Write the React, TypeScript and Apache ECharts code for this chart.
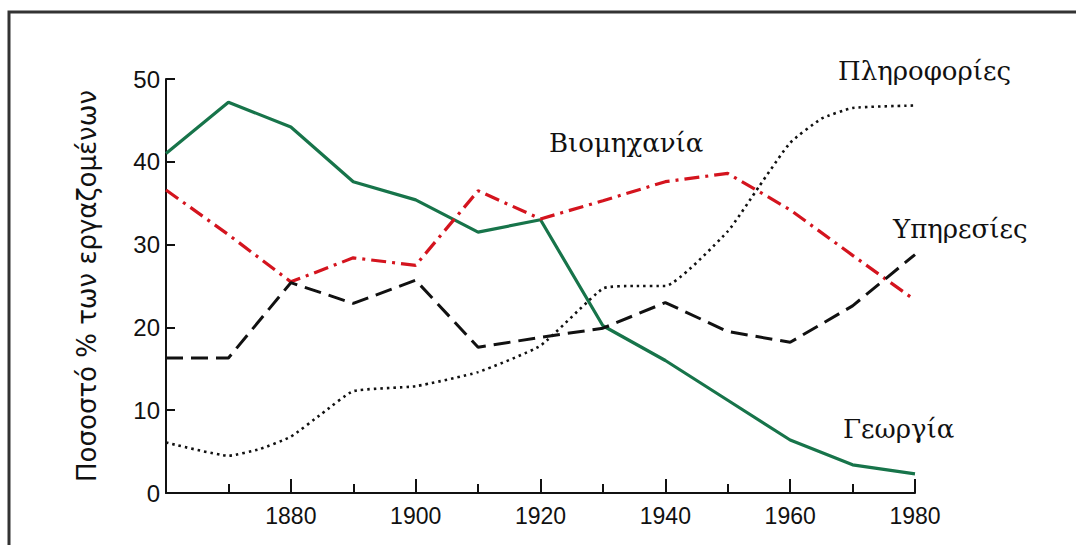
import React, { useEffect, useRef } from "react";
import * as echarts from "echarts";

const years = [1860, 1870, 1880, 1890, 1900, 1910, 1920, 1930, 1940, 1950, 1960, 1970, 1980];
const georgia = [41, 47.2, 44.2, 37.6, 35.4, 31.5, 33, 20.2, 16, 11.2, 6.4, 3.4, 2.3];
const viomichania = [36.6, 31.2, 25.5, 28.4, 27.5, 36.5, 33.1, 35.3, 37.6, 38.6, 34.2, 28.7, 23.3];
const ypiresies = [16.3, 16.3, 25.4, 22.9, 25.7, 17.6, 18.8, 19.9, 23.0, 19.5, 18.2, 22.6, 28.8];
const pliroforiesYears = [1860, 1870, 1875, 1880, 1885, 1890, 1900, 1910, 1920, 1930, 1935, 1940, 1950, 1955, 1960, 1965, 1970, 1980];
const plirofories = [6.1, 4.5, 5.3, 6.8, 9.6, 12.3, 12.9, 14.6, 17.8, 24.7, 25, 25, 31.6, 37, 42.3, 45.2, 46.5, 46.8];

const seriesNames = ["Γεωργία", "Βιομηχανία", "Υπηρεσίες", "Πληροφορίες"];
const yTitle = "Ποσοστό % των εργαζομένων";

export default function App() {
  const ref = useRef<HTMLDivElement>(null);
  useEffect(() => {
    const chart = echarts.init(ref.current!, null, { renderer: "svg" });
    const zip = (xs: number[], ys: number[]) => xs.map((x, i) => [x, ys[i]]);
    const lbl = (text: string) => ({ text, font: "26px 'DejaVu Serif'", fill: "#111" });
    chart.setOption({
      animation: false,
      backgroundColor: "#fff",
      grid: { left: 166, right: 161, top: 79, bottom: 52 },
      xAxis: {
        type: "value",
        min: 1860,
        max: 1980,
        interval: 20,
        axisLine: { show: true, lineStyle: { color: "#111", width: 2 } },
        axisTick: { show: true, inside: true, length: 14, lineStyle: { color: "#111", width: 2 } },
        minorTick: { show: true, splitNumber: 2, length: 9, lineStyle: { color: "#111", width: 2 } },
        splitLine: { show: false },
        axisLabel: {
          fontFamily: "Liberation Sans",
          fontSize: 23,
          color: "#111",
          margin: 11,
          formatter: (v: number) => (v === 1860 ? "" : String(v)),
        },
      },
      yAxis: {
        type: "value",
        min: 0,
        max: 50,
        interval: 10,
        name: yTitle,
        nameLocation: "middle",
        nameGap: 66,
        nameTextStyle: { fontFamily: "DejaVu Sans", fontSize: 26, color: "#111" },
        axisLine: { show: true, lineStyle: { color: "#111", width: 2 } },
        axisTick: { show: true, inside: true, length: 9, lineStyle: { color: "#111", width: 2 } },
        splitLine: { show: false },
        axisLabel: { fontFamily: "Liberation Sans", fontSize: 24, color: "#111", margin: 6 },
      },
      series: [
        {
          name: seriesNames[0],
          type: "line",
          data: zip(years, georgia),
          symbol: "none",
          lineStyle: { color: "#17744a", width: 3.2, type: "solid" },
        },
        {
          name: seriesNames[1],
          type: "line",
          data: zip(years, viomichania),
          symbol: "none",
          lineStyle: { color: "#d4141e", width: 3.2, type: [15, 6, 3, 6] },
        },
        {
          name: seriesNames[2],
          type: "line",
          data: zip(years, ypiresies),
          symbol: "none",
          lineStyle: { color: "#111", width: 3, type: [17, 8] },
        },
        {
          name: seriesNames[3],
          type: "line",
          data: zip(pliroforiesYears, plirofories),
          symbol: "none",
          smooth: 0.15,
          lineStyle: { color: "#111", width: 2.6, type: [2.5, 4] },
        },
      ],
      graphic: [
        { type: "rect", shape: { x: 9, y: 12, width: 1100, height: 600 }, style: { fill: "none", stroke: "#333", lineWidth: 3 }, silent: true },
        { type: "text", left: 838, top: 58, style: lbl(seriesNames[3]) },
        { type: "text", left: 549, top: 130, style: lbl(seriesNames[1]) },
        { type: "text", left: 893, top: 216, style: lbl(seriesNames[2]) },
        { type: "text", left: 843, top: 416, style: lbl(seriesNames[0]) },
      ],
    });
    return () => chart.dispose();
  }, []);
  return <div ref={ref} style={{ position: "fixed", left: 0, top: 0, width: 1076, height: 545, background: "#fff" }} />;
}
